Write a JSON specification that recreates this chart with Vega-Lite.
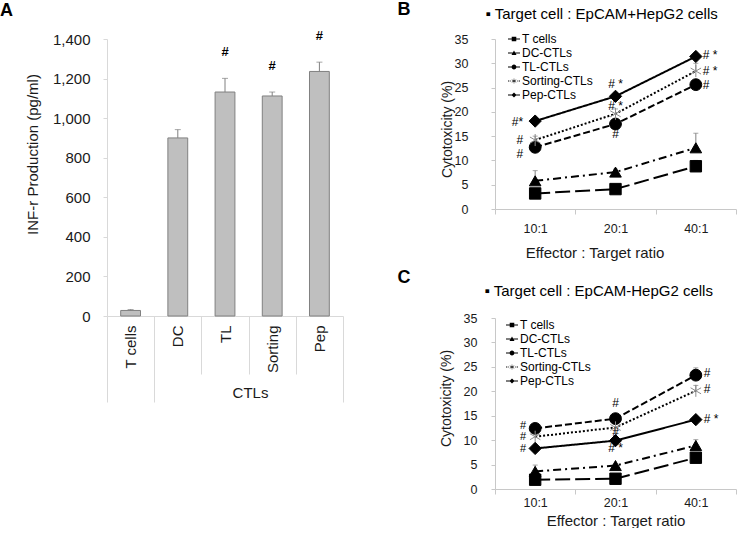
{
  "$schema": "https://vega.github.io/schema/vega-lite/v6.json",
  "padding": {"left": 0, "top": 0, "right": 0, "bottom": 0},
  "background": "white",
  "bounds": "flush",
  "spacing": 152,
  "config": {
    "font": "Liberation Sans",
    "view": {"stroke": null},
    "axis": {"domainColor": "#c8c8c8", "tickColor": "#c8c8c8", "labelColor": "#1a1a1a", "titleColor": "#1a1a1a", "titleFontWeight": "normal", "grid": false, "labelFont": "Liberation Sans", "titleFont": "Liberation Sans", "labelOverlap": false},
    "title": {"font": "Liberation Sans", "color": "#000"},
    "legend": {"labelFont": "Liberation Sans"}
  },
  "datasets": {
    "a": [
      {"group": "T cells", "mean": 28, "hi": 33, "sig": ""},
      {"group": "DC", "mean": 900, "hi": 942, "sig": ""},
      {"group": "TL", "mean": 1132, "hi": 1201, "sig": "#"},
      {"group": "Sorting", "mean": 1112, "hi": 1132, "sig": "#"},
      {"group": "Pep", "mean": 1236, "hi": 1283, "sig": "#"}
    ],
    "b": [
      {"series": "T cells", "ratio": "10:1", "value": 3.2, "hi": null},
      {"series": "T cells", "ratio": "20:1", "value": 4.1, "hi": null},
      {"series": "T cells", "ratio": "40:1", "value": 8.8, "hi": 10.0},
      {"series": "DC-CTLs", "ratio": "10:1", "value": 5.8, "hi": 7.9},
      {"series": "DC-CTLs", "ratio": "20:1", "value": 7.6, "hi": 8.2},
      {"series": "DC-CTLs", "ratio": "40:1", "value": 12.6, "hi": 15.6},
      {"series": "TL-CTLs", "ratio": "10:1", "value": 12.7, "hi": null},
      {"series": "TL-CTLs", "ratio": "20:1", "value": 17.5, "hi": null},
      {"series": "TL-CTLs", "ratio": "40:1", "value": 25.6, "hi": null},
      {"series": "Sorting-CTLs", "ratio": "10:1", "value": 14.2, "hi": 15.0},
      {"series": "Sorting-CTLs", "ratio": "20:1", "value": 19.6, "hi": 20.6},
      {"series": "Sorting-CTLs", "ratio": "40:1", "value": 28.4, "hi": 30.0},
      {"series": "Pep-CTLs", "ratio": "10:1", "value": 18.1, "hi": null},
      {"series": "Pep-CTLs", "ratio": "20:1", "value": 23.2, "hi": null},
      {"series": "Pep-CTLs", "ratio": "40:1", "value": 31.4, "hi": null}
    ],
    "c": [
      {"series": "T cells", "ratio": "10:1", "value": 1.9, "hi": null},
      {"series": "T cells", "ratio": "20:1", "value": 2.1, "hi": null},
      {"series": "T cells", "ratio": "40:1", "value": 6.4, "hi": 7.2},
      {"series": "DC-CTLs", "ratio": "10:1", "value": 3.6, "hi": 4.9},
      {"series": "DC-CTLs", "ratio": "20:1", "value": 4.8, "hi": null},
      {"series": "DC-CTLs", "ratio": "40:1", "value": 8.9, "hi": 10.1},
      {"series": "TL-CTLs", "ratio": "10:1", "value": 12.4, "hi": null},
      {"series": "TL-CTLs", "ratio": "20:1", "value": 14.4, "hi": null},
      {"series": "TL-CTLs", "ratio": "40:1", "value": 23.3, "hi": 24.8},
      {"series": "Sorting-CTLs", "ratio": "10:1", "value": 10.7, "hi": null},
      {"series": "Sorting-CTLs", "ratio": "20:1", "value": 12.6, "hi": null},
      {"series": "Sorting-CTLs", "ratio": "40:1", "value": 20.1, "hi": 21.2},
      {"series": "Pep-CTLs", "ratio": "10:1", "value": 8.3, "hi": null},
      {"series": "Pep-CTLs", "ratio": "20:1", "value": 9.9, "hi": null},
      {"series": "Pep-CTLs", "ratio": "40:1", "value": 14.2, "hi": null}
    ],
    "bAnn": [
      {"ratio": "10:1", "at": 18.0, "text": "#*", "side": "left"},
      {"ratio": "10:1", "at": 14.2, "text": "#", "side": "left"},
      {"ratio": "10:1", "at": 11.4, "text": "#", "side": "left"},
      {"ratio": "20:1", "at": 25.7, "text": "# *", "side": "center"},
      {"ratio": "20:1", "at": 21.3, "text": "# *", "side": "center"},
      {"ratio": "20:1", "at": 15.5, "text": "#", "side": "center"},
      {"ratio": "40:1", "at": 31.7, "text": "# *", "side": "right"},
      {"ratio": "40:1", "at": 28.5, "text": "# *", "side": "right"},
      {"ratio": "40:1", "at": 25.5, "text": "#", "side": "right"}
    ],
    "cAnn": [
      {"ratio": "10:1", "at": 12.9, "text": "#", "side": "left"},
      {"ratio": "10:1", "at": 10.6, "text": "#", "side": "left"},
      {"ratio": "10:1", "at": 8.2, "text": "#", "side": "left"},
      {"ratio": "20:1", "at": 17.7, "text": "#", "side": "center"},
      {"ratio": "20:1", "at": 11.7, "text": "#", "side": "center"},
      {"ratio": "20:1", "at": 8.3, "text": "# *", "side": "center"},
      {"ratio": "40:1", "at": 23.8, "text": "#", "side": "right"},
      {"ratio": "40:1", "at": 20.5, "text": "#", "side": "right"},
      {"ratio": "40:1", "at": 14.4, "text": "# *", "side": "right"}
    ]
  },
  "hconcat": [
    {
      "width": 236,
      "height": 277,
      "title": {"text": "A", "anchor": "start", "frame": "group", "dx": -107, "fontSize": 18, "fontWeight": "bold", "offset": 10},
      "data": {"name": "a"},
      "encoding": {
        "x": {
          "field": "group", "type": "nominal", "sort": null,
          "scale": {"paddingInner": 0, "paddingOuter": 0},
          "axis": {
            "title": "CTLs", "labelAngle": 270, "labelAlign": "right", "labelBaseline": "middle",
            "labelFontSize": 15, "titleFontSize": 15, "tickBand": "extent",
            "tickSize": {"condition": {"test": "datum.value === 'T cells' || datum.value === 'Pep' || datum.extra", "value": 86}, "value": 58},
            "labelPadding": {"condition": {"test": "datum.value === 'T cells' || datum.value === 'Pep'", "value": -77}, "value": -49},
            "domainColor": "#d9d9d9", "tickColor": "#d9d9d9",
            "titleX": 143, "titleY": 76, "titleBaseline": "middle"
          }
        },
        "y": {
          "field": "mean", "type": "quantitative", "scale": {"domain": [0, 1400]},
          "axis": {"title": "INF-r  Production (pg/ml)", "values": [0, 200, 400, 600, 800, 1000, 1200, 1400], "tickCount": 8, "format": ",d", "labelOverlap": false, "labelSeparation": 0, "labelFontSize": 15, "titleFontSize": 15, "tickSize": 4, "labelPadding": 13, "titleX": -75, "titleY": 115, "titleBaseline": "middle", "domainColor": "#d9d9d9", "tickColor": "#d9d9d9"}
        }
      },
      "layer": [
        {"mark": {"type": "bar", "width": {"band": 0.42}, "fill": "#bfbfbf", "stroke": "#808080", "strokeWidth": 1}},
        {"mark": {"type": "rule", "color": "#808080", "strokeWidth": 1}, "encoding": {"y2": {"field": "hi"}}},
        {"mark": {"type": "tick", "orient": "horizontal", "size": 6, "thickness": 1, "color": "#808080"}, "encoding": {"y": {"field": "hi", "type": "quantitative"}}},
        {"mark": {"type": "text", "dy": -26, "fontSize": 13, "fontWeight": "bold", "color": "#000"}, "encoding": {"y": {"field": "hi", "type": "quantitative"}, "text": {"field": "sig"}}}
      ]
    },
    {
      "bounds": "flush",
      "spacing": 109,
      "vconcat": [
        {
          "width": 241,
          "height": 170,
          "encoding": {
            "y": {
              "field": "value", "type": "quantitative", "scale": {"domain": [0, 35]},
              "axis": {"title": "Cytotoxicity (%)", "values": [0, 5, 10, 15, 20, 25, 30, 35], "labelFontSize": 12.5, "titleFontSize": 14, "tickSize": 4, "labelPadding": 23, "titleX": -48, "titleY": 90, "titleBaseline": "middle"}
            }
          },
          "layer": [
            {
              "data": {"name": "b"},
              "mark": {"type": "line", "color": "#000", "strokeWidth": 2},
              "encoding": {
                "x": {"field": "ratio", "type": "nominal", "sort": null, "scale": {"domain": ["10:1", "20:1", "40:1"], "paddingInner": 0, "paddingOuter": 0},
                      "axis": {"title": "Effector : Target ratio", "labelAngle": 0, "labelFontSize": 12.5, "titleFontSize": 15, "tickBand": "extent", "tickSize": 5, "labelPadding": 8, "titleX": 99.5, "titleY": 43, "titleBaseline": "middle"}},
                "strokeDash": {"field": "series", "type": "nominal", "scale": {"domain": ["T cells", "DC-CTLs", "TL-CTLs", "Sorting-CTLs", "Pep-CTLs"], "range": [[15, 5], [8, 4, 2, 4], [7, 3], [2, 2], [1, 0]]}, "legend": null}
              }
            },
            {
              "data": {"name": "b"},
              "transform": [{"filter": "isValid(datum.hi)"}],
              "mark": {"type": "rule", "color": "#808080", "strokeWidth": 1},
              "encoding": {
                "x": {"field": "ratio", "type": "nominal", "sort": null, "scale": {"domain": ["10:1", "20:1", "40:1"], "paddingInner": 0, "paddingOuter": 0}, "axis": null},
                "y2": {"field": "hi"}
              }
            },
            {
              "data": {"name": "b"},
              "transform": [{"filter": "isValid(datum.hi)"}],
              "mark": {"type": "tick", "orient": "horizontal", "size": 5, "thickness": 1, "color": "#808080"},
              "encoding": {
                "x": {"field": "ratio", "type": "nominal", "sort": null, "scale": {"domain": ["10:1", "20:1", "40:1"], "paddingInner": 0, "paddingOuter": 0}, "axis": null},
                "y": {"field": "hi", "type": "quantitative"}
              }
            },
            {
              "data": {"name": "b"},
              "mark": {"type": "point", "filled": true, "opacity": 1, "strokeWidth": 1},
              "encoding": {
                "x": {"field": "ratio", "type": "nominal", "sort": null, "scale": {"domain": ["10:1", "20:1", "40:1"], "paddingInner": 0, "paddingOuter": 0}, "axis": null},
                "shape": {"field": "series", "type": "nominal", "scale": {"domain": ["T cells", "DC-CTLs", "TL-CTLs", "Sorting-CTLs", "Pep-CTLs"], "range": ["square", "triangle-up", "circle", "M0,-1L0,1M-0.87,-0.5L0.87,0.5M-0.87,0.5L0.87,-0.5", "diamond"]}, "legend": null},
                "fill": {"field": "series", "type": "nominal", "scale": {"domain": ["T cells", "DC-CTLs", "TL-CTLs", "Sorting-CTLs", "Pep-CTLs"], "range": ["#000000", "#000000", "#000000", "transparent", "#000000"]}, "legend": null},
                "stroke": {"field": "series", "type": "nominal", "scale": {"domain": ["T cells", "DC-CTLs", "TL-CTLs", "Sorting-CTLs", "Pep-CTLs"], "range": ["#000000", "#000000", "#000000", "#8c8c8c", "#000000"]}, "legend": null},
                "size": {"field": "series", "type": "ordinal", "scale": {"domain": ["T cells", "DC-CTLs", "TL-CTLs", "Sorting-CTLs", "Pep-CTLs"], "range": [130, 150, 140, 150, 100]}, "legend": null}
              }
            },
            {
              "data": {"name": "b"},
              "mark": {"type": "point", "filled": true, "opacity": 0, "color": "#000"},
              "encoding": {
                "x": {"field": "ratio", "type": "nominal", "sort": null, "scale": {"domain": ["10:1", "20:1", "40:1"], "paddingInner": 0, "paddingOuter": 0},
                      "axis": {"orient": "top", "title": "▪ Target cell : EpCAM+HepG2 cells", "labels": false, "ticks": false, "domain": false, "titleFontSize": 15, "titleFontWeight": "normal", "titleColor": "#000", "titleX": -10, "titleY": -26, "titleAlign": "left", "titleBaseline": "middle"}},
                "shape": {
                  "field": "series", "type": "nominal",
                  "scale": {"domain": ["T cells", "DC-CTLs", "TL-CTLs", "Sorting-CTLs", "Pep-CTLs"], "range": [
                    "M-1,-0.09H1V0.09H-1Z M-0.38,-0.38H0.38V0.38H-0.38Z",
                    "M-1,-0.09H1V0.09H-1Z M-0.42,0.34L0,-0.4L0.42,0.34Z",
                    "M-1,-0.09H1V0.09H-1Z M-0.4,0A0.4,0.4 0 1 1 0.4,0A0.4,0.4 0 1 1 -0.4,0Z",
                    "M-1,-0.08H-0.84V0.08H-1Z M-0.72,-0.08H-0.56V0.08H-0.72Z M0.56,-0.08H0.72V0.08H0.56Z M0.84,-0.08H1V0.08H0.84Z M-0.04,-0.42H0.04V0.42H-0.04Z M-0.39,-0.17L-0.35,-0.24L0.39,0.17L0.35,0.24Z M-0.39,0.17L-0.35,0.24L0.39,-0.17L0.35,-0.24Z",
                    "M-1,-0.09H1V0.09H-1Z M0,-0.42L0.42,0L0,0.42L-0.42,0Z"
                  ]},
                  "legend": {"orient": "none", "legendX": 13, "legendY": -6, "title": null, "labelFontSize": 12, "labelColor": "#000", "symbolSize": 144, "symbolFillColor": "#000", "symbolStrokeWidth": 0, "symbolOpacity": 1, "rowPadding": 2, "labelOffset": 2, "padding": 0}
                }
              }
            },
            {
              "data": {"name": "bAnn"},
              "transform": [{"filter": "datum.side === 'left'"}],
              "mark": {"type": "text", "align": "right", "baseline": "middle", "dx": -12, "fontSize": 12, "color": "#000"},
              "encoding": {
                "x": {"field": "ratio", "type": "nominal", "sort": null, "scale": {"domain": ["10:1", "20:1", "40:1"], "paddingInner": 0, "paddingOuter": 0},
                      "axis": {"orient": "top", "title": "B", "labels": false, "ticks": false, "domain": false, "titleFontSize": 18, "titleFontWeight": "bold", "titleColor": "#000", "titleX": -98, "titleY": -30, "titleAlign": "left", "titleBaseline": "middle"}},
                "y": {"field": "at", "type": "quantitative"},
                "text": {"field": "text"}
              }
            },
            {
              "data": {"name": "bAnn"},
              "transform": [{"filter": "datum.side === 'center'"}],
              "mark": {"type": "text", "align": "center", "baseline": "middle", "fontSize": 12, "color": "#000"},
              "encoding": {
                "x": {"field": "ratio", "type": "nominal", "sort": null, "scale": {"domain": ["10:1", "20:1", "40:1"], "paddingInner": 0, "paddingOuter": 0}, "axis": null},
                "y": {"field": "at", "type": "quantitative"},
                "text": {"field": "text"}
              }
            },
            {
              "data": {"name": "bAnn"},
              "transform": [{"filter": "datum.side === 'right'"}],
              "mark": {"type": "text", "align": "left", "baseline": "middle", "dx": 7, "fontSize": 12, "color": "#000"},
              "encoding": {
                "x": {"field": "ratio", "type": "nominal", "sort": null, "scale": {"domain": ["10:1", "20:1", "40:1"], "paddingInner": 0, "paddingOuter": 0}, "axis": null},
                "y": {"field": "at", "type": "quantitative"},
                "text": {"field": "text"}
              }
            }
          ],
          "resolve": {"scale": {"shape": "independent"}, "axis": {"x": "independent"}}
        },
        {
          "width": 241,
          "height": 171,
          "encoding": {
            "y": {
              "field": "value", "type": "quantitative", "scale": {"domain": [0, 35]},
              "axis": {"title": "Cytotoxicity (%)", "values": [0, 5, 10, 15, 20, 25, 30, 35], "labelFontSize": 12.5, "titleFontSize": 14, "tickSize": 4, "labelPadding": 14, "titleX": -49, "titleY": 80, "titleBaseline": "middle"}
            }
          },
          "layer": [
            {
              "data": {"name": "c"},
              "mark": {"type": "line", "color": "#000", "strokeWidth": 2},
              "encoding": {
                "x": {"field": "ratio", "type": "nominal", "sort": null, "scale": {"domain": ["10:1", "20:1", "40:1"], "paddingInner": 0, "paddingOuter": 0},
                      "axis": {"title": "Effector : Target ratio", "labelAngle": 0, "labelFontSize": 12.5, "titleFontSize": 15, "tickBand": "extent", "tickSize": 5, "labelPadding": 2, "titleY": 31, "titleBaseline": "middle"}},
                "strokeDash": {"field": "series", "type": "nominal", "scale": {"domain": ["T cells", "DC-CTLs", "TL-CTLs", "Sorting-CTLs", "Pep-CTLs"], "range": [[15, 5], [8, 4, 2, 4], [7, 3], [2, 2], [1, 0]]}, "legend": null}
              }
            },
            {
              "data": {"name": "c"},
              "transform": [{"filter": "isValid(datum.hi)"}],
              "mark": {"type": "rule", "color": "#808080", "strokeWidth": 1},
              "encoding": {
                "x": {"field": "ratio", "type": "nominal", "sort": null, "scale": {"domain": ["10:1", "20:1", "40:1"], "paddingInner": 0, "paddingOuter": 0}, "axis": null},
                "y2": {"field": "hi"}
              }
            },
            {
              "data": {"name": "c"},
              "transform": [{"filter": "isValid(datum.hi)"}],
              "mark": {"type": "tick", "orient": "horizontal", "size": 5, "thickness": 1, "color": "#808080"},
              "encoding": {
                "x": {"field": "ratio", "type": "nominal", "sort": null, "scale": {"domain": ["10:1", "20:1", "40:1"], "paddingInner": 0, "paddingOuter": 0}, "axis": null},
                "y": {"field": "hi", "type": "quantitative"}
              }
            },
            {
              "data": {"name": "c"},
              "mark": {"type": "point", "filled": true, "opacity": 1, "strokeWidth": 1},
              "encoding": {
                "x": {"field": "ratio", "type": "nominal", "sort": null, "scale": {"domain": ["10:1", "20:1", "40:1"], "paddingInner": 0, "paddingOuter": 0}, "axis": null},
                "shape": {"field": "series", "type": "nominal", "scale": {"domain": ["T cells", "DC-CTLs", "TL-CTLs", "Sorting-CTLs", "Pep-CTLs"], "range": ["square", "triangle-up", "circle", "M0,-1L0,1M-0.87,-0.5L0.87,0.5M-0.87,0.5L0.87,-0.5", "diamond"]}, "legend": null},
                "fill": {"field": "series", "type": "nominal", "scale": {"domain": ["T cells", "DC-CTLs", "TL-CTLs", "Sorting-CTLs", "Pep-CTLs"], "range": ["#000000", "#000000", "#000000", "transparent", "#000000"]}, "legend": null},
                "stroke": {"field": "series", "type": "nominal", "scale": {"domain": ["T cells", "DC-CTLs", "TL-CTLs", "Sorting-CTLs", "Pep-CTLs"], "range": ["#000000", "#000000", "#000000", "#8c8c8c", "#000000"]}, "legend": null},
                "size": {"field": "series", "type": "ordinal", "scale": {"domain": ["T cells", "DC-CTLs", "TL-CTLs", "Sorting-CTLs", "Pep-CTLs"], "range": [130, 150, 140, 150, 100]}, "legend": null}
              }
            },
            {
              "data": {"name": "c"},
              "mark": {"type": "point", "filled": true, "opacity": 0, "color": "#000"},
              "encoding": {
                "x": {"field": "ratio", "type": "nominal", "sort": null, "scale": {"domain": ["10:1", "20:1", "40:1"], "paddingInner": 0, "paddingOuter": 0},
                      "axis": {"orient": "top", "title": "▪ Target cell : EpCAM-HepG2 cells", "labels": false, "ticks": false, "domain": false, "titleFontSize": 15, "titleFontWeight": "normal", "titleColor": "#000", "titleX": -11, "titleY": -28, "titleAlign": "left", "titleBaseline": "middle"}},
                "shape": {
                  "field": "series", "type": "nominal",
                  "scale": {"domain": ["T cells", "DC-CTLs", "TL-CTLs", "Sorting-CTLs", "Pep-CTLs"], "range": [
                    "M-1,-0.09H1V0.09H-1Z M-0.38,-0.38H0.38V0.38H-0.38Z",
                    "M-1,-0.09H1V0.09H-1Z M-0.42,0.34L0,-0.4L0.42,0.34Z",
                    "M-1,-0.09H1V0.09H-1Z M-0.4,0A0.4,0.4 0 1 1 0.4,0A0.4,0.4 0 1 1 -0.4,0Z",
                    "M-1,-0.08H-0.84V0.08H-1Z M-0.72,-0.08H-0.56V0.08H-0.72Z M0.56,-0.08H0.72V0.08H0.56Z M0.84,-0.08H1V0.08H0.84Z M-0.04,-0.42H0.04V0.42H-0.04Z M-0.39,-0.17L-0.35,-0.24L0.39,0.17L0.35,0.24Z M-0.39,0.17L-0.35,0.24L0.39,-0.17L0.35,-0.24Z",
                    "M-1,-0.09H1V0.09H-1Z M0,-0.42L0.42,0L0,0.42L-0.42,0Z"
                  ]},
                  "legend": {"orient": "none", "legendX": 11, "legendY": 1, "title": null, "labelFontSize": 12, "labelColor": "#000", "symbolSize": 144, "symbolFillColor": "#000", "symbolStrokeWidth": 0, "symbolOpacity": 1, "rowPadding": 2, "labelOffset": 2, "padding": 0}
                }
              }
            },
            {
              "data": {"name": "cAnn"},
              "transform": [{"filter": "datum.side === 'left'"}],
              "mark": {"type": "text", "align": "right", "baseline": "middle", "dx": -9, "fontSize": 11, "color": "#000"},
              "encoding": {
                "x": {"field": "ratio", "type": "nominal", "sort": null, "scale": {"domain": ["10:1", "20:1", "40:1"], "paddingInner": 0, "paddingOuter": 0},
                      "axis": {"orient": "top", "title": "C", "labels": false, "ticks": false, "domain": false, "titleFontSize": 18, "titleFontWeight": "bold", "titleColor": "#000", "titleX": -98, "titleY": -41, "titleAlign": "left", "titleBaseline": "middle"}},
                "y": {"field": "at", "type": "quantitative"},
                "text": {"field": "text"}
              }
            },
            {
              "data": {"name": "cAnn"},
              "transform": [{"filter": "datum.side === 'center'"}],
              "mark": {"type": "text", "align": "center", "baseline": "middle", "fontSize": 12, "color": "#000"},
              "encoding": {
                "x": {"field": "ratio", "type": "nominal", "sort": null, "scale": {"domain": ["10:1", "20:1", "40:1"], "paddingInner": 0, "paddingOuter": 0}, "axis": null},
                "y": {"field": "at", "type": "quantitative"},
                "text": {"field": "text"}
              }
            },
            {
              "data": {"name": "cAnn"},
              "transform": [{"filter": "datum.side === 'right'"}],
              "mark": {"type": "text", "align": "left", "baseline": "middle", "dx": 8, "fontSize": 12, "color": "#000"},
              "encoding": {
                "x": {"field": "ratio", "type": "nominal", "sort": null, "scale": {"domain": ["10:1", "20:1", "40:1"], "paddingInner": 0, "paddingOuter": 0}, "axis": null},
                "y": {"field": "at", "type": "quantitative"},
                "text": {"field": "text"}
              }
            }
          ],
          "resolve": {"scale": {"shape": "independent"}, "axis": {"x": "independent"}}
        }
      ]
    }
  ]
}
